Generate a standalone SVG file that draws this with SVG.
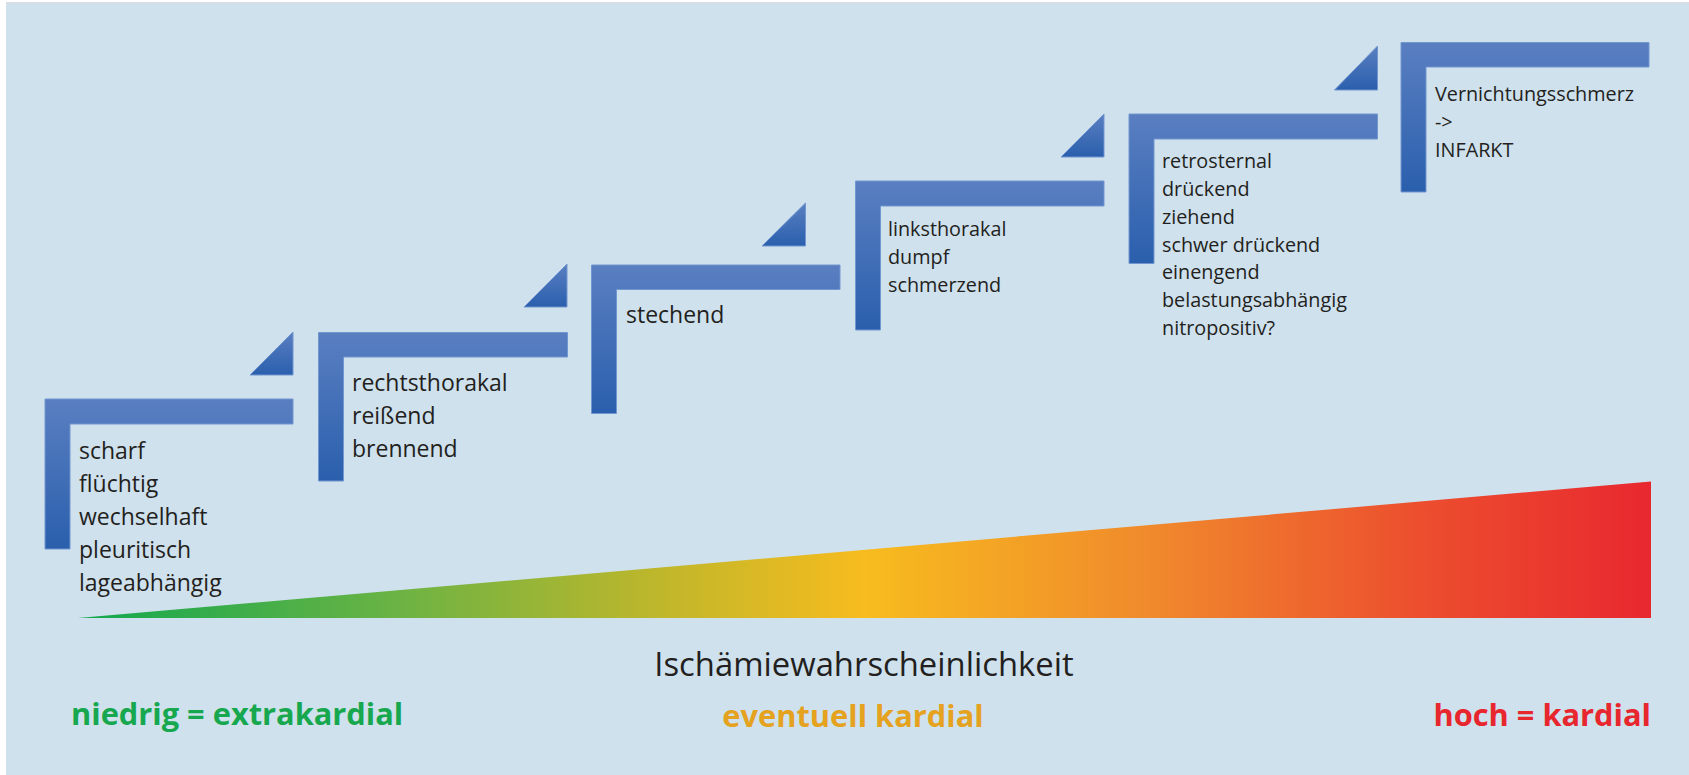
<svg xmlns="http://www.w3.org/2000/svg" width="1689" height="775" viewBox="0 0 1689 775">
<defs>
<linearGradient id="blue" x1="0" y1="0" x2="0" y2="1">
<stop offset="0" stop-color="#5a7fc1"/>
<stop offset="1" stop-color="#2a5fad"/>
</linearGradient>
<linearGradient id="risk" gradientUnits="userSpaceOnUse" x1="78" y1="0" x2="1651" y2="0">
<stop offset="0" stop-color="#10a84f"/>
<stop offset="0.2" stop-color="#6ab344"/>
<stop offset="0.38" stop-color="#c4b72a"/>
<stop offset="0.5" stop-color="#f7bc1e"/>
<stop offset="0.68" stop-color="#f08a2c"/>
<stop offset="0.85" stop-color="#ec4f2e"/>
<stop offset="1" stop-color="#e8282f"/>
</linearGradient>
</defs>
<style>
.step{fill:url(#blue);stroke:#7296cf;stroke-width:1}
.tri{fill:url(#blue);stroke:#7296cf;stroke-width:1}
.lg{font-family:"Open Sans","Noto Sans",sans-serif;font-size:23px;fill:#231f20}
.sm{font-family:"Open Sans","Noto Sans",sans-serif;font-size:19.8px;fill:#231f20}
.axis{font-family:"Open Sans","Noto Sans",sans-serif;font-size:32.8px;fill:#231f20}
.lbl{font-family:"Open Sans","Noto Sans",sans-serif;font-size:30.8px;font-weight:bold}
</style>
<rect x="0" y="0" width="1689" height="775" fill="#ffffff"/>
<rect x="6" y="3" width="1683" height="772" fill="#cfe1ed"/>
<line x1="6" y1="2.5" x2="1689" y2="2.5" stroke="#dcdcdc" stroke-width="1"/>

<g id="connectors">
<polygon class="tri" points="250,375 293,332 293,375"/>
<polygon class="tri" points="524,307 567,264 567,307"/>
<polygon class="tri" points="762,246 805.5,203 805.5,246"/>
<polygon class="tri" points="1061,157 1104,114 1104,157"/>
<polygon class="tri" points="1334.5,90 1377.5,46 1377.5,90"/>
</g>

<g id="step1">
<path class="step" d="M45 399 h248 v25 h-223 v125 h-25 z"/>
<text class="lg" x="79" y="459">scharf</text>
<text class="lg" x="79" y="492">flüchtig</text>
<text class="lg" x="79" y="525">wechselhaft</text>
<text class="lg" x="79" y="558">pleuritisch</text>
<text class="lg" x="79" y="591">lageabhängig</text>
</g>

<g id="step2">
<path class="step" d="M318.5 332.5 h249 v24.5 h-224 v124 h-25 z"/>
<text class="lg" x="352" y="391">rechtsthorakal</text>
<text class="lg" x="352" y="424">reißend</text>
<text class="lg" x="352" y="457">brennend</text>
</g>

<g id="step3">
<path class="step" d="M591.5 265 h248.5 v24.5 h-223.5 v124 h-25 z"/>
<text class="lg" x="626" y="323">stechend</text>
</g>

<g id="step4">
<path class="step" d="M855.5 181 h248.5 v25 h-223.5 v124 h-25 z"/>
<text class="sm" x="888" y="236">linksthorakal</text>
<text class="sm" x="888" y="264">dumpf</text>
<text class="sm" x="888" y="292">schmerzend</text>
</g>

<g id="step5">
<path class="step" d="M1129 114 h248.5 v25 h-223.5 v124.5 h-25 z"/>
<text class="sm" x="1162" y="168">retrosternal</text>
<text class="sm" x="1162" y="196">drückend</text>
<text class="sm" x="1162" y="223.5">ziehend</text>
<text class="sm" x="1162" y="251.5">schwer drückend</text>
<text class="sm" x="1162" y="279">einengend</text>
<text class="sm" x="1162" y="307">belastungsabhängig</text>
<text class="sm" x="1162" y="335">nitropositiv?</text>
</g>

<g id="step6">
<path class="step" d="M1401 42.5 h248 v24.5 h-223 v125 h-25 z"/>
<text class="sm" x="1435" y="100.5">Vernichtungsschmerz</text>
<text class="sm" x="1435" y="128.5">-&gt;</text>
<text class="sm" x="1435" y="156.5">INFARKT</text>
</g>

<g id="risk-wedge">
<polygon points="78,618 1651,481.5 1651,618" fill="url(#risk)"/>
</g>

<g id="axis-labels">
<text class="axis" x="864" y="676" text-anchor="middle">Ischämiewahrscheinlichkeit</text>
<text class="lbl" x="71" y="725" fill="#17a84f">niedrig = extrakardial</text>
<text class="lbl" x="853" y="727" fill="#e4a21f" text-anchor="middle">eventuell kardial</text>
<text class="lbl" x="1651" y="726" fill="#e8262d" text-anchor="end">hoch = kardial</text>
</g>
</svg>
